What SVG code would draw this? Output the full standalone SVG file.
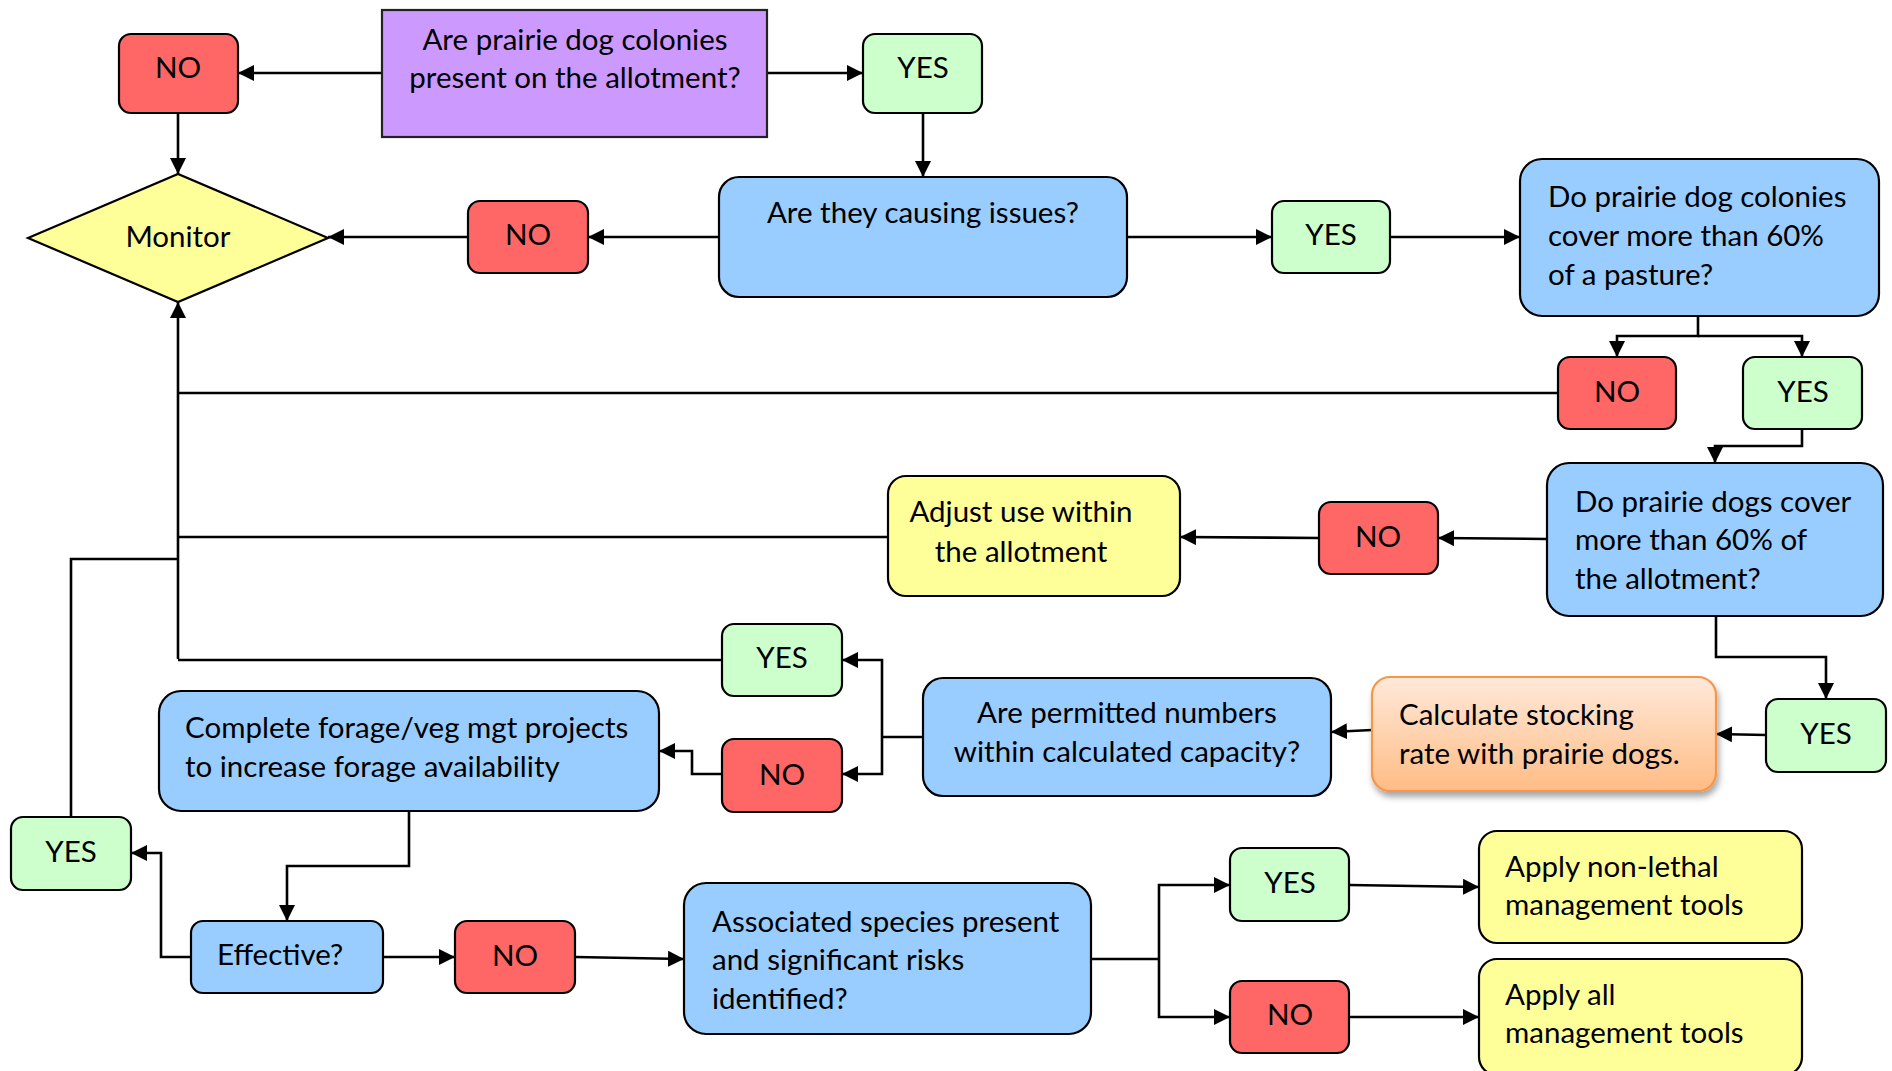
<svg xmlns="http://www.w3.org/2000/svg" width="1892" height="1071" viewBox="0 0 1892 1071">
  <style>
    .box { stroke: #000; stroke-width: 2.2; }
    .no { fill: #FF6666; }
    .yes { fill: #CCFFCC; }
    .q { fill: #99CCFF; }
    .act { fill: #FFFF99; }
    .start { fill: #CC99FF; stroke: #222; stroke-width: 2.2; }
    .wire { fill: none; stroke: #000; stroke-width: 2.6; }
    .arr { marker-end: url(#head); }
    text { font-family: Lato, "Open Sans", "Liberation Sans", sans-serif; font-size: 29.5px; fill: #000; }
    .c { text-anchor: middle; }
  </style>
  <defs>
    <marker id="head" markerUnits="userSpaceOnUse" markerWidth="16" markerHeight="16" viewBox="0 0 15 15" refX="15" refY="7.5" orient="auto">
      <path d="M0,0 L15,7.5 L0,15 z" fill="#000"/>
    </marker>
    <linearGradient id="peach" x1="0" y1="0" x2="0" y2="1">
      <stop offset="0" stop-color="#FFE9DA"/>
      <stop offset="1" stop-color="#FFBC85"/>
    </linearGradient>
    <filter id="shadow" x="-10%" y="-10%" width="130%" height="140%">
      <feGaussianBlur in="SourceAlpha" stdDeviation="3"/>
      <feOffset dx="2" dy="5" result="b"/>
      <feFlood flood-color="#000" flood-opacity="0.35"/>
      <feComposite in2="b" operator="in"/>
      <feMerge><feMergeNode/><feMergeNode in="SourceGraphic"/></feMerge>
    </filter>
  </defs>

  <!-- connectors -->
  <g id="connectors">
    <path class="wire arr" d="M382,73 H238"/>
    <path class="wire arr" d="M767,73 H863"/>
    <path class="wire arr" d="M178,113 V174"/>
    <path class="wire arr" d="M923,113 V177"/>
    <path class="wire arr" d="M719,237 H588"/>
    <path class="wire arr" d="M468,237 H328"/>
    <path class="wire arr" d="M1127,237 H1272"/>
    <path class="wire arr" d="M1390,237 H1520"/>
    <path class="wire arr" d="M1698,316 V336 H1617 V357"/>
    <path class="wire arr" d="M1698,336 H1802 V357"/>
    <path class="wire" d="M1558,393 H178"/>
    <path class="wire arr" d="M178,659 V302"/>
    <path class="wire arr" d="M1802,429 V446 H1715 V463"/>
    <path class="wire arr" d="M1547,539 L1438,538"/>
    <path class="wire arr" d="M1319,538 L1180,537"/>
    <path class="wire" d="M888,537 H178"/>
    <path class="wire" d="M71,817 V559 H178"/>
    <path class="wire arr" d="M1716,617 V657 H1826 V699"/>
    <path class="wire arr" d="M1766,735 L1716,734"/>
    <path class="wire arr" d="M1372,730 L1331,732"/>
    <path class="wire" d="M923,737 H882"/>
    <path class="wire arr" d="M882,737 V660 H842"/>
    <path class="wire arr" d="M882,737 V774 H842"/>
    <path class="wire" d="M722,660 H178"/>
    <path class="wire arr" d="M722,774 H692 V751 H659"/>
    <path class="wire arr" d="M409,811 V866 H287 V921"/>
    <path class="wire arr" d="M191,957 H161 V853 H131"/>
    <path class="wire arr" d="M383,957 H455"/>
    <path class="wire arr" d="M575,957 L684,959"/>
    <path class="wire" d="M1091,959 H1159"/>
    <path class="wire arr" d="M1159,959 V885 H1230"/>
    <path class="wire arr" d="M1159,959 V1017 H1230"/>
    <path class="wire arr" d="M1349,885 L1479,887"/>
    <path class="wire arr" d="M1349,1017 H1479"/>
  </g>

  <g id="start">
    <rect class="start" x="382" y="10" width="385" height="127"/>
    <text class="c" x="575" y="50">Are prairie dog colonies</text>
    <text class="c" x="575" y="88">present on the allotment?</text>
  </g>
  <g id="no-present">
    <rect class="box no" x="119" y="34" width="119" height="79" rx="12"/>
    <text class="c" x="178" y="78">NO</text>
  </g>
  <g id="yes-present">
    <rect class="box yes" x="863" y="34" width="119" height="79" rx="12"/>
    <text class="c" x="923" y="78">YES</text>
  </g>
  <g id="monitor">
    <polygon class="box act" points="28,238 178,174 328,238 178,302"/>
    <text class="c" x="178" y="247">Monitor</text>
  </g>
  <g id="no-issues">
    <rect class="box no" x="468" y="201" width="120" height="72" rx="12"/>
    <text class="c" x="528" y="245">NO</text>
  </g>
  <g id="issues">
    <rect class="box q" x="719" y="177" width="408" height="120" rx="20"/>
    <text class="c" x="923" y="223">Are they causing issues?</text>
  </g>
  <g id="yes-issues">
    <rect class="box yes" x="1272" y="201" width="118" height="72" rx="12"/>
    <text class="c" x="1331" y="245">YES</text>
  </g>
  <g id="pasture">
    <rect class="box q" x="1520" y="159" width="359" height="157" rx="22"/>
    <text x="1548" y="207">Do prairie dog colonies</text>
    <text x="1548" y="246">cover more than 60%</text>
    <text x="1548" y="285">of a pasture?</text>
  </g>
  <g id="no-pasture">
    <rect class="box no" x="1558" y="357" width="118" height="72" rx="12"/>
    <text class="c" x="1617" y="402">NO</text>
  </g>
  <g id="yes-pasture">
    <rect class="box yes" x="1743" y="357" width="119" height="72" rx="12"/>
    <text class="c" x="1803" y="402">YES</text>
  </g>
  <g id="allotment">
    <rect class="box q" x="1547" y="463" width="336" height="153" rx="22"/>
    <text x="1575" y="512">Do prairie dogs cover</text>
    <text x="1575" y="550">more than 60% of</text>
    <text x="1575" y="589">the allotment?</text>
  </g>
  <g id="no-allotment">
    <rect class="box no" x="1319" y="502" width="119" height="72" rx="12"/>
    <text class="c" x="1378" y="547">NO</text>
  </g>
  <g id="adjust">
    <rect class="box act" x="888" y="476" width="292" height="120" rx="18"/>
    <text class="c" x="1021" y="522">Adjust use within</text>
    <text class="c" x="1021" y="562">the allotment</text>
  </g>
  <g id="yes-allotment">
    <rect class="box yes" x="1766" y="699" width="120" height="73" rx="12"/>
    <text class="c" x="1826" y="744">YES</text>
  </g>
  <g id="stocking">
    <rect x="1372" y="677" width="344" height="114" rx="18" fill="url(#peach)" stroke="#F79646" stroke-width="2.2" filter="url(#shadow)"/>
    <text x="1399" y="725">Calculate stocking</text>
    <text x="1399" y="764">rate with prairie dogs.</text>
  </g>
  <g id="permitted">
    <rect class="box q" x="923" y="678" width="408" height="118" rx="20"/>
    <text class="c" x="1127" y="723">Are permitted numbers</text>
    <text class="c" x="1127" y="762">within calculated capacity?</text>
  </g>
  <g id="yes-permitted">
    <rect class="box yes" x="722" y="624" width="120" height="72" rx="12"/>
    <text class="c" x="782" y="668">YES</text>
  </g>
  <g id="no-permitted">
    <rect class="box no" x="722" y="739" width="120" height="73" rx="12"/>
    <text class="c" x="782" y="785">NO</text>
  </g>
  <g id="forage">
    <rect class="box q" x="159" y="691" width="500" height="120" rx="22"/>
    <text x="185" y="738">Complete forage/veg mgt projects</text>
    <text x="185" y="777">to increase forage availability</text>
  </g>
  <g id="yes-effective">
    <rect class="box yes" x="11" y="817" width="120" height="73" rx="12"/>
    <text class="c" x="71" y="862">YES</text>
  </g>
  <g id="effective">
    <rect class="box q" x="191" y="921" width="192" height="72" rx="12"/>
    <text x="217" y="965">Effective?</text>
  </g>
  <g id="no-effective">
    <rect class="box no" x="455" y="921" width="120" height="72" rx="12"/>
    <text class="c" x="515" y="966">NO</text>
  </g>
  <g id="species">
    <rect class="box q" x="684" y="883" width="407" height="151" rx="22"/>
    <text x="712" y="932">Associated species present</text>
    <text x="712" y="970">and significant risks</text>
    <text x="712" y="1009">identified?</text>
  </g>
  <g id="yes-species">
    <rect class="box yes" x="1230" y="848" width="119" height="73" rx="12"/>
    <text class="c" x="1290" y="893">YES</text>
  </g>
  <g id="no-species">
    <rect class="box no" x="1230" y="981" width="119" height="72" rx="12"/>
    <text class="c" x="1290" y="1025">NO</text>
  </g>
  <g id="non-lethal">
    <rect class="box act" x="1479" y="831" width="323" height="112" rx="18"/>
    <text x="1505" y="877">Apply non-lethal</text>
    <text x="1505" y="915">management tools</text>
  </g>
  <g id="all-tools">
    <rect class="box act" x="1479" y="959" width="323" height="116" rx="18"/>
    <text x="1505" y="1005">Apply all</text>
    <text x="1505" y="1043">management tools</text>
  </g>
</svg>
